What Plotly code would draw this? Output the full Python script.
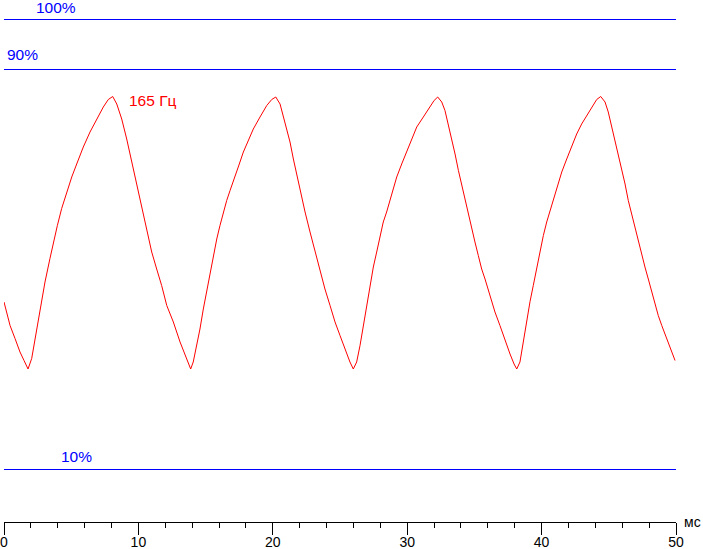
"""Response-time oscillogram: brightness (%) vs time (ms), 165 Hz."""
import plotly.graph_objects as go

# Time (ms) and brightness (%)
time_ms = [
    0.00, 0.45, 0.82, 1.19, 1.49, 1.79, 2.06, 2.31, 2.55, 2.81, 3.05, 3.42, 3.67, 3.97,
    4.29, 4.67, 5.04, 5.41, 5.90, 6.40, 6.90, 7.39, 7.76, 8.09, 8.39, 8.76, 9.13, 9.50,
    9.87, 10.25, 10.62, 10.99, 11.36, 11.73, 12.11, 12.60, 13.10, 13.59, 13.89,
    14.08, 14.34, 14.58, 14.83, 15.08, 15.33, 15.57, 15.83, 16.07, 16.32, 16.57, 16.82,
    17.06, 17.43, 17.81, 18.18, 18.55, 19.05, 19.55, 19.92, 20.22, 20.54, 20.78, 21.03,
    21.28, 21.53, 21.78, 22.02, 22.40, 22.77, 23.14, 23.51, 23.88, 24.26, 24.63, 25.00,
    25.37, 25.74, 25.99,
    26.24, 26.49, 26.73, 26.99, 27.23, 27.48, 27.73, 27.98, 28.22, 28.47, 28.72, 28.97,
    29.22, 29.59, 29.96, 30.34, 30.71, 31.20, 31.70, 32.00, 32.27, 32.57, 32.81, 33.06,
    33.31, 33.56, 33.81, 34.06, 34.30, 34.55, 34.80, 35.04, 35.29, 35.54, 35.79, 36.03,
    36.29, 36.53, 36.90, 37.28, 37.65, 37.95, 38.15,
    38.39, 38.64, 38.89, 39.14, 39.38, 39.64, 39.88, 40.13, 40.38, 40.63, 40.87, 41.12,
    41.50, 41.87, 42.24, 42.61, 42.98, 43.36, 43.73, 44.10, 44.40, 44.72, 44.96, 45.22,
    45.46, 45.71, 45.96, 46.21, 46.45, 46.70, 46.95, 47.19, 47.45, 47.69, 47.94, 48.19,
    48.44, 48.68, 48.94, 49.18, 49.43, 49.68, 49.93,
]
brightness = [
    43.5, 38.8, 36.2, 33.5, 31.8, 30.1, 32.2, 36.2, 40.2, 44.2, 47.5, 52.2, 55.5, 58.8,
    62.2, 65.5, 68.5, 71.1, 74.5, 77.5, 80.1, 82.5, 84.0, 84.6, 83.1, 80.1, 76.1, 71.5,
    67.5, 62.1, 57.5, 53.5, 50.1, 46.8, 42.8, 39.5, 35.5, 32.1, 30.1,
    31.5, 34.8, 38.1, 42.1, 45.5, 49.5, 52.8, 56.1, 58.8, 61.5, 63.8, 65.8,
    67.8, 70.5, 73.5, 75.8, 78.1, 80.5, 82.8, 84.0, 84.5, 83.1, 80.8, 78.1,
    75.5, 72.1, 69.1, 65.8, 61.5, 57.5, 53.5, 49.5, 46.1, 42.8, 39.5, 36.8,
    34.1, 31.5, 30.1,
    31.5, 34.8, 38.8, 42.8, 46.8, 50.5, 53.5, 56.8, 59.5, 61.5, 63.8, 66.1,
    68.5, 71.1, 73.5, 76.1, 78.5, 80.5, 82.5, 83.8, 84.5, 83.5, 81.8, 79.1,
    76.1, 73.1, 69.8, 66.8, 63.8, 60.8, 58.1, 55.5, 52.8, 50.1, 48.1, 45.8,
    43.8, 41.5, 38.8, 35.8, 33.1, 31.1, 30.1,
    31.5, 35.6, 39.8, 43.6, 46.8, 50.2, 53.8, 56.8, 59.5, 61.8, 64.1, 66.5,
    69.5, 72.1, 74.8, 77.1, 79.1, 80.8, 82.5, 84.0, 84.6, 83.5, 81.5, 78.5,
    76.1, 73.5, 70.1, 67.1, 63.8, 61.1, 58.1, 55.5, 52.8, 50.5, 48.1, 45.5,
    43.1, 40.8, 38.8, 37.1, 35.5, 33.5, 31.8,
]

# Reference levels
levels = [100, 90, 10]
level_labels = ["100%", "90%", "10%"]
level_label_x = [3.87, 1.35, 5.43]
level_label_y = [102.4, 93.0, 12.6]

freq_label = "165 Гц"
x_range = [0, 50]
x_tickvals = [0, 10, 20, 30, 40, 50]

FONT = "Liberation Sans, Arial"
BLUE = "#0000ff"
RED = "#ff0000"

fig = go.Figure()

for lv in levels:
    fig.add_trace(go.Scatter(
        x=x_range, y=[lv, lv], mode="lines",
        line=dict(color=BLUE, width=1), hoverinfo="skip",
    ))

fig.add_trace(go.Scatter(
    x=time_ms, y=brightness, mode="lines",
    line=dict(color=RED, width=1),
))

for txt, lx, ly in zip(level_labels, level_label_x, level_label_y):
    fig.add_annotation(x=lx, y=ly, text=txt, showarrow=False,
                       font=dict(family=FONT, size=15.5, color=BLUE))

fig.add_annotation(x=11.1, y=83.8, text=freq_label, showarrow=False,
                   font=dict(family=FONT, size=15.5, color=RED))
# unit label sits right of the axis end
fig.add_annotation(xref="paper", yref="paper", x=1.024, y=0.0, yshift=0,
                   text="мс", showarrow=False, xanchor="center", yanchor="middle",
                   font=dict(family=FONT, size=14, color="black"))

fig.update_layout(
    width=703,
    height=549,
    margin=dict(l=4, r=27, t=0, b=27),
    paper_bgcolor="white",
    plot_bgcolor="white",
    showlegend=False,
    font=dict(family=FONT, size=14, color="black"),
    xaxis=dict(
        range=x_range,
        tickvals=x_tickvals,
        ticks="outside",
        ticklen=12,
        tickcolor="black",
        tickwidth=1,
        showline=True,
        linecolor="black",
        linewidth=1,
        showgrid=False,
        zeroline=False,
        automargin=False,
        ticklabeloverflow="allow",
        ticklabelstandoff=-5,
        tickfont=dict(family=FONT, size=14, color="black"),
        minor=dict(dtick=2, ticks="outside", ticklen=5, tickcolor="black", tickwidth=1,
                   showgrid=False),
    ),
    yaxis=dict(
        # half-pixel offset keeps the 1px level lines crisp
        range=[-0.5, 103.9],
        visible=False,
        showgrid=False,
        zeroline=False,
        automargin=False,
    ),
)

# drop the page's default body margin so the figure sits at the window corner
fig.write_html(
    "out.html",
    config={"displayModeBar": False},
    post_script="document.body.style.margin='0';document.body.style.overflow='hidden';",
)
